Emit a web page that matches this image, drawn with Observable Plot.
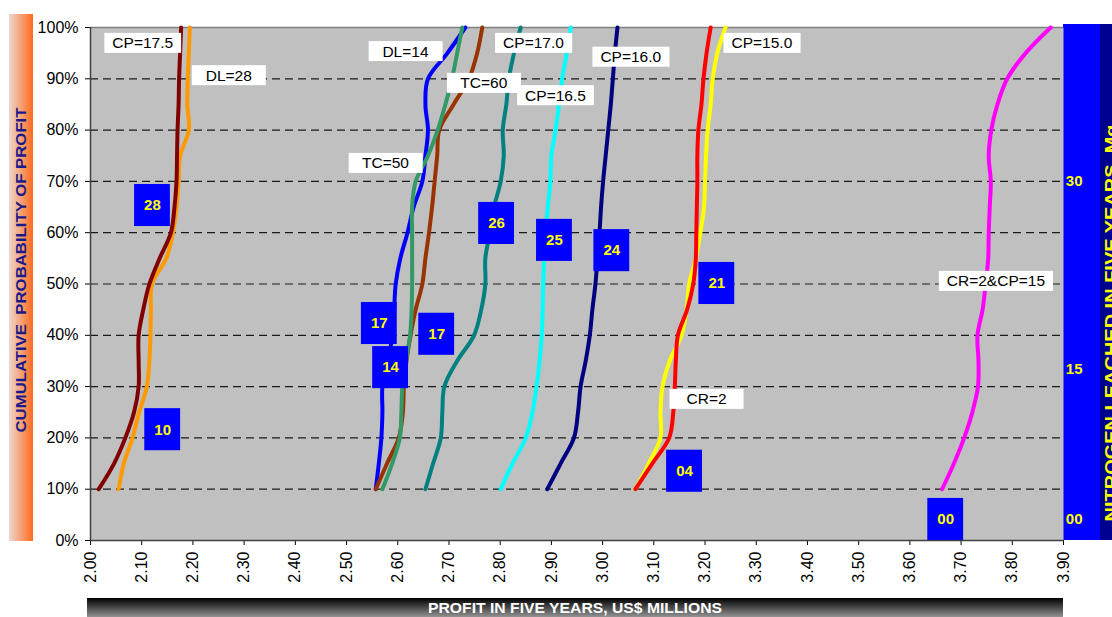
<!DOCTYPE html>
<html><head><meta charset="utf-8">
<script src="https://cdn.jsdelivr.net/npm/d3@7"></script>
<script src="https://cdn.jsdelivr.net/npm/@observablehq/plot@0.6"></script>
<style>
html,body{margin:0;padding:0;background:#fff;overflow:hidden;}
#chart svg{display:block;overflow:hidden;}
</style>
</head><body><div id="chart"></div>
<script>
// ---- data ----
const probs = [10,15,20,25,30,35,40,45,50,55,60,65,70,75,80,85,90,95,100];
const dl28  = [2.055,2.065,2.082,2.095,2.110,2.115,2.117,2.118,2.120,2.148,2.161,2.168,2.172,2.175,2.192,2.189,2.190,2.192,2.194];
const cp175 = [2.016,2.046,2.068,2.085,2.094,2.094,2.094,2.103,2.115,2.135,2.157,2.164,2.168,2.169,2.170,2.172,2.173,2.175,2.177];
const dl14  = [2.557,2.563,2.568,2.570,2.570,2.580,2.590,2.593,2.596,2.605,2.619,2.631,2.648,2.654,2.659,2.654,2.659,2.697,2.732];
const tc60  = [2.557,2.579,2.602,2.610,2.612,2.617,2.625,2.635,2.648,2.654,2.661,2.667,2.672,2.677,2.681,2.709,2.739,2.755,2.765];
const tc50  = [2.570,2.589,2.604,2.607,2.609,2.616,2.624,2.627,2.628,2.628,2.628,2.628,2.635,2.659,2.678,2.693,2.706,2.716,2.726];
const cp170 = [2.654,2.669,2.684,2.687,2.691,2.716,2.749,2.763,2.771,2.771,2.780,2.788,2.801,2.807,2.805,2.812,2.817,2.827,2.840];
const cp165 = [2.801,2.824,2.850,2.863,2.871,2.877,2.881,2.883,2.884,2.886,2.889,2.893,2.898,2.900,2.908,2.915,2.921,2.930,2.938];
const cp160 = [2.892,2.918,2.944,2.952,2.957,2.967,2.975,2.980,2.986,2.990,2.994,2.997,3.001,3.006,3.011,3.016,3.020,3.024,3.029];
const cp150 = [3.064,3.090,3.113,3.113,3.117,3.131,3.154,3.164,3.169,3.182,3.191,3.198,3.200,3.202,3.205,3.211,3.215,3.224,3.240];
const cr2   = [3.064,3.097,3.130,3.138,3.141,3.143,3.147,3.165,3.177,3.182,3.183,3.184,3.185,3.185,3.187,3.193,3.197,3.203,3.211];
const cr2cp15 = [3.663,3.686,3.706,3.722,3.733,3.734,3.732,3.742,3.748,3.753,3.754,3.756,3.758,3.754,3.759,3.771,3.790,3.826,3.875];

const seriesNames = ["DL=28","CP=17.5","DL=14","TC=60","TC=50","CP=17.0","CP=16.5","CP=16.0","CP=15.0","CR=2","CR=2&CP=15"];
const seriesValues = [dl28, cp175, dl14, tc60, tc50, cp170, cp165, cp160, cp150, cr2, cr2cp15];

const xTicks = [2.0,2.1,2.2,2.3,2.4,2.5,2.6,2.7,2.8,2.9,3.0,3.1,3.2,3.3,3.4,3.5,3.6,3.7,3.8,3.9];
const yTicks = [0,10,20,30,40,50,60,70,80,90,100];
const gridTicks = [10,20,30,40,50,60,70,80,90];

const whiteText = ["CP=17.5","DL=28","DL=14","TC=60","CP=17.0","CP=16.0","CP=15.0","CP=16.5","TC=50","CR=2","CR=2&CP=15"];
const whiteX = [2.102,2.270,2.615,2.768,2.865,3.055,3.311,2.908,2.576,3.203,3.768];
const whiteP = [96.9,90.6,95.3,89.1,96.9,94.2,96.9,86.7,73.5,27.5,50.5];

const blueText = ["28","10","17","14","17","26","25","24","21","04","00"];
const blueX = [2.121,2.141,2.564,2.586,2.676,2.793,2.906,3.018,3.223,3.160,3.670];
const blueP = [65.3,21.6,42.3,33.7,40.2,61.8,58.5,56.5,50.1,13.5,4.1];

const nitroText = ["00","15","30"];
const nitroP = [4.1,33.3,70.0];

// ---- styles ----
const seriesColors = {
  "DL=28":"#FF9900","CP=17.5":"#800000","DL=14":"#0000FF","TC=60":"#993300","TC=50":"#339966",
  "CP=17.0":"#008080","CP=16.5":"#00FFFF","CP=16.0":"#000080","CP=15.0":"#FFFF00","CR=2":"#FF0000","CR=2&CP=15":"#FF00FF"
};

const W = 1112, H = 617, mL = 90, mR = 49, mT = 27, mB = 77;

const whiteLabels = whiteText.map((t,i) => ({text:t, x:whiteX[i], p:whiteP[i]}));
const blueLabels = blueText.map((t,i) => ({text:t, x:blueX[i], p:blueP[i]}));
const nitroLabels = nitroText.map((t,i) => ({text:t, p:nitroP[i]}));

const lineMarks = seriesNames.map((name, k) =>
  Plot.line(probs.map((p,i) => ({x: seriesValues[k][i], p})), {
    x: "x", y: "p", stroke: seriesColors[name], strokeWidth: 4,
    curve: "catmull-rom", strokeLinecap: "round", strokeLinejoin: "round"
  })
);

const plot = Plot.plot({
  width: W, height: H,
  marginLeft: mL, marginRight: mR, marginTop: mT, marginBottom: mB,
  style: {background: "transparent", fontFamily: "'Liberation Sans', Arial, sans-serif", fontSize: "16px", color: "#000", overflow: "hidden"},
  x: {domain: [2.0, 3.9], ticks: xTicks, tickFormat: d => d.toFixed(2), tickRotate: -90, label: null, tickSize: 5, tickPadding: 6},
  y: {domain: [0, 100], ticks: yTicks, tickFormat: d => d + "%", label: null, tickSize: 5, tickPadding: 7},
  marks: [
    Plot.frame({fill: "#C0C0C0", stroke: "none"}),
    Plot.ruleY(gridTicks, {stroke: "#1a1a1a", strokeDasharray: "8,5", strokeWidth: 1.2}),
    Plot.ruleY([100], {stroke: "#808080", strokeWidth: 1.5}),
    Plot.ruleX([2.0], {stroke: "#404040", strokeWidth: 1.5}),
    Plot.ruleY([0], {stroke: "#404040", strokeWidth: 1.5}),
    ...lineMarks,
    Plot.text(whiteLabels, {x: "x", y: "p", text: "text", fill: "#000", fontSize: 15.5, ariaDescription: "white-labels"}),
    Plot.rect(blueLabels, {x1: d => d.x - 0.035, x2: d => d.x + 0.035, y1: d => d.p - 4.1, y2: d => d.p + 4.1, fill: "#0000FF"}),
    Plot.text(blueLabels, {x: "x", y: "p", text: "text", fill: "#FFFF00", fontSize: 15, fontWeight: "bold"}),
    Plot.text(nitroLabels, {y: "p", text: "text", frameAnchor: "right", dx: 19, fill: "#FFFF00", fontSize: 15, fontWeight: "bold"})
  ]
});

document.getElementById("chart").appendChild(plot);

// ---- decorations ----
const svg = d3.select(plot);
const defs = svg.insert("defs", ":first-child");
const lg = defs.append("linearGradient").attr("id","leftGrad").attr("x1","0").attr("x2","1").attr("y1","0").attr("y2","0");
lg.append("stop").attr("offset","0").attr("stop-color","#EBD8D0");
lg.append("stop").attr("offset","1").attr("stop-color","#FF6A1E");
const bg = defs.append("linearGradient").attr("id","botGrad").attr("x1","0").attr("x2","0").attr("y1","0").attr("y2","1");
bg.append("stop").attr("offset","0").attr("stop-color","#000");
bg.append("stop").attr("offset","1").attr("stop-color","#9a9a9a");

const deco = svg.insert("g", "defs + *");
deco.append("rect").attr("x", 9).attr("y", 14).attr("width", 24).attr("height", 527).attr("fill", "url(#leftGrad)");
deco.append("rect").attr("x", W - mR).attr("y", 24).attr("width", 37).attr("height", H - mB - 24).attr("fill", "#0000FF");
deco.append("rect").attr("x", W - mR + 37).attr("y", 24).attr("width", 20).attr("height", H - mB - 24).attr("fill", "#000090");
deco.append("rect").attr("x", 87).attr("y", 598).attr("width", 976).attr("height", 20).attr("fill", "url(#botGrad)");

// white label boxes
svg.selectAll('g[aria-description="white-labels"] text').each(function() {
  const b = this.getBBox();
  const w = Math.max(b.width + 16, 74);
  const cx = b.x + b.width / 2;
  d3.select(this.parentNode).insert("rect", () => this)
    .attr("x", cx - w / 2).attr("y", b.y + b.height / 2 - 10)
    .attr("width", w).attr("height", 20)
    .attr("fill", "#fff")
    .attr("transform", this.getAttribute("transform"));
});

// titles
svg.append("text").attr("transform", "translate(26,270) rotate(-90)")
  .attr("text-anchor", "middle").attr("fill", "#1a1a8a").attr("font-weight", "bold").attr("font-size", 14)
  .attr("textLength", 325).attr("lengthAdjust", "spacingAndGlyphs")
  .text("CUMULATIVE  PROBABILITY OF PROFIT");
svg.append("text").attr("transform", "translate(1117,323) rotate(-90)")
  .attr("text-anchor", "middle").attr("fill", "#FFFF00").attr("font-weight", "bold").attr("font-size", 17)
  .attr("textLength", 397).attr("lengthAdjust", "spacingAndGlyphs")
  .text("NITROGEN LEACHED IN FIVE YEARS, Mg");
svg.append("text").attr("x", 575).attr("y", 613)
  .attr("text-anchor", "middle").attr("fill", "#fff").attr("font-weight", "bold").attr("font-size", 15)
  .attr("textLength", 294).attr("lengthAdjust", "spacingAndGlyphs")
  .text("PROFIT IN FIVE YEARS, US$ MILLIONS");
</script></body></html>
